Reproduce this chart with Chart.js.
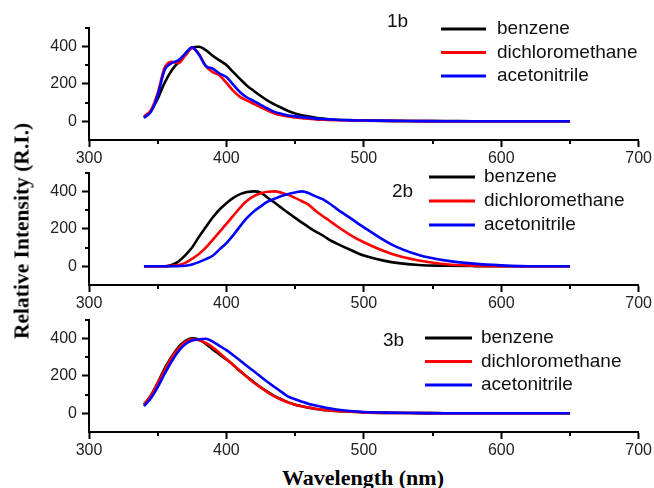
<!DOCTYPE html>
<html>
<head>
<meta charset="utf-8">
<script src="https://cdn.jsdelivr.net/npm/chart.js@4.4.1/dist/chart.umd.min.js"></script>
<style>
    body { margin: 0; background: #fff; }
    #wrap { position: relative; width: 654px; height: 488px; overflow: hidden; }
    .panel { position: absolute; left: 0; width: 654px; height: 157px; }
    #ytitle {
        position: absolute; left: 22px; top: 231px;
        transform: translate(-50%, -50%) rotate(-90deg);
        font: bold 21.5px "Liberation Serif", "Times New Roman", serif;
        white-space: nowrap; color: #000;
    }
    #xtitle {
        position: absolute; left: 363px; top: 478px;
        transform: translate(-50%, -50%);
        font: bold 22px "Liberation Serif", "Times New Roman", serif;
        white-space: nowrap; color: #000;
    }
</style>
</head>
<body>
<div id="wrap">
    <div class="panel" style="top:13px"><canvas id="c1"></canvas></div>
    <div class="panel" style="top:158px"><canvas id="c2"></canvas></div>
    <div class="panel" style="top:305px"><canvas id="c3"></canvas></div>
    <div id="ytitle">Relative Intensity (R.I.)</div>
    <div id="xtitle">Wavelength (nm)</div>
</div>
<script>
// wavelengths (nm) shared by every curve
const wavelengths = [340, 345, 350, 355, 360, 365, 370, 375, 380, 385, 390, 395, 400, 405, 410, 415, 420, 425, 430, 435, 440, 445, 450, 455, 460, 465, 470, 475, 480, 490, 500, 520, 540, 560, 580, 600, 625, 650];

const solvents = ['benzene', 'dichloromethane', 'acetonitrile'];

// 1b
const benzene1b = [19, 55, 120, 205, 270, 315, 360, 392, 398, 380, 350, 325, 300, 262, 225, 190, 162, 135, 110, 90, 72, 55, 42, 32, 25, 19, 14, 10, 8, 6, 4, 2, 1, 1, 0, 0, 0, 0];
const dcm1b = [27, 58, 150, 285, 318, 310, 350, 390, 360, 295, 262, 245, 205, 162, 130, 110, 93, 75, 57, 42, 32, 25, 21, 17, 14, 10, 8, 7, 6, 4, 3, 2, 1, 0, 0, 0, 0, 0];
const acn1b = [19, 50, 140, 272, 310, 325, 360, 395, 355, 295, 281, 255, 236, 195, 155, 127, 108, 88, 68, 50, 40, 31, 26, 22, 18, 14, 12, 10, 8, 5, 4, 2, 1, 0, 0, 0, 0, 0];

// 2b
const benzene2b = [0, 0, 0, 0, 7, 25, 58, 100, 157, 209, 260, 303, 337, 365, 385, 396, 400, 393, 366, 340, 312, 285, 258, 233, 208, 185, 165, 141, 122, 88, 57, 22, 7, 3, 1, 0, 0, 0];
const dcm2b = [0, 0, 0, 0, 2, 6, 18, 40, 65, 99, 141, 184, 226, 270, 313, 350, 374, 390, 398, 400, 393, 381, 365, 347, 328, 295, 268, 243, 216, 168, 128, 67, 31, 11, 3, 0, 0, 0];
const acn2b = [0, 0, 0, 0, 0, 1, 3, 10, 22, 38, 56, 90, 124, 166, 214, 258, 293, 320, 345, 360, 375, 386, 394, 400, 390, 373, 358, 335, 308, 258, 208, 117, 60, 30, 14, 5, 0, 0];

// 3b
const benzene3b = [46, 95, 163, 238, 300, 352, 385, 400, 393, 370, 341, 314, 287, 258, 224, 195, 166, 139, 114, 92, 75, 58, 46, 37, 29, 23, 18, 15, 12, 8, 5, 2, 1, 0, 0, 0, 0, 0];
const dcm3b = [48, 92, 160, 230, 295, 345, 380, 395, 390, 375, 352, 322, 290, 258, 226, 194, 163, 137, 112, 90, 72, 57, 46, 37, 30, 24, 19, 15, 12, 8, 5, 2, 1, 0, 0, 0, 0, 0];
const acn3b = [38, 80, 140, 210, 275, 330, 368, 388, 395, 398, 382, 360, 337, 310, 282, 252, 224, 195, 167, 140, 114, 89, 75, 62, 50, 41, 33, 26, 20, 12, 7, 3, 1, 0, 0, 0, 0, 0];

const xMajor = [300, 400, 500, 600, 700];
const xMinor = [350, 450, 550, 650];
const yMajor = [0, 200, 400];
const yMinor = [100, 300, 500];

const colors = ['#000000', '#ff0000', '#0000ff'];

// small minor ticks + inset legend with panel name
const decorations = {
    id: 'decorations',
    afterDraw(chart, args, opts) {
        const ctx = chart.ctx;
        const xs = chart.scales.x, ys = chart.scales.y;
        ctx.save();
        ctx.strokeStyle = '#000';
        ctx.lineWidth = 2;
        ctx.beginPath();
        xMinor.forEach(v => {
            const px = Math.round(xs.getPixelForValue(v));
            ctx.moveTo(px, ys.bottom);
            ctx.lineTo(px, ys.bottom + 4);
        });
        yMinor.forEach(v => {
            const py = Math.round(ys.getPixelForValue(v));
            ctx.moveTo(xs.left, py);
            ctx.lineTo(xs.left - 4, py);
        });
        ctx.stroke();

        ctx.font = '19px "Liberation Sans", Arial, sans-serif';
        ctx.textBaseline = 'middle';
        ctx.fillStyle = '#111';
        ctx.fillText(opts.name, opts.nameX, opts.nameY);
        chart.data.datasets.forEach((ds, i) => {
            const y = opts.rowY + i * opts.rowGap;
            ctx.strokeStyle = ds.borderColor;
            ctx.lineWidth = 3;
            ctx.beginPath();
            ctx.moveTo(opts.lineX1, y);
            ctx.lineTo(opts.lineX2, y);
            ctx.stroke();
            ctx.fillStyle = '#111';
            ctx.fillText(ds.label, opts.textX, y);
        });
        ctx.restore();
    }
};

function makePanel(id, series, legend) {
    return new Chart(document.getElementById(id), {
        type: 'line',
        data: {
            datasets: series.map((vals, i) => ({
                label: solvents[i],
                data: wavelengths.map((w, j) => ({ x: w, y: vals[j] })),
                borderColor: colors[i],
                borderWidth: 2.6,
                pointRadius: 0,
                cubicInterpolationMode: 'monotone',
                fill: false,
                order: 2 - i
            }))
        },
        options: {
            responsive: true,
            maintainAspectRatio: false,
            animation: false,
            layout: { padding: { top: 10, left: 0, right: 13, bottom: 0 } },
            plugins: {
                legend: { display: false },
                tooltip: { enabled: false },
                decorations: legend
            },
            scales: {
                x: {
                    type: 'linear',
                    min: 300,
                    max: 700,
                    afterBuildTicks: s => { s.ticks = xMajor.map(v => ({ value: v })); },
                    afterFit: s => { s.height = 30; },
                    border: { display: true, color: '#000', width: 2 },
                    grid: { drawOnChartArea: false, tickLength: 7, tickColor: '#000', tickWidth: 2 },
                    ticks: {
                        color: '#222',
                        padding: 2,
                        maxRotation: 0,
                        font: { family: '"Liberation Sans", Arial, sans-serif', size: 16 }
                    }
                },
                y: {
                    min: -100,
                    max: 500,
                    afterBuildTicks: s => { s.ticks = yMajor.map(v => ({ value: v })); },
                    afterFit: s => { s.width = 89; },
                    border: { display: true, color: '#000', width: 2 },
                    grid: { drawOnChartArea: false, tickLength: 7, tickColor: '#000', tickWidth: 2 },
                    ticks: {
                        color: '#222',
                        padding: 5,
                        font: { family: '"Liberation Sans", Arial, sans-serif', size: 16 }
                    }
                }
            }
        },
        plugins: [decorations]
    });
}

makePanel('c1', [benzene1b, dcm1b, acn1b],
    { name: '1b', nameX: 387, nameY: 9, lineX1: 441, lineX2: 486, textX: 497, rowY: 16, rowGap: 23.5 });
makePanel('c2', [benzene2b, dcm2b, acn2b],
    { name: '2b', nameX: 392, nameY: 34, lineX1: 429, lineX2: 475, textX: 484, rowY: 19, rowGap: 24 });
makePanel('c3', [benzene3b, dcm3b, acn3b],
    { name: '3b', nameX: 383, nameY: 36, lineX1: 425, lineX2: 472, textX: 481, rowY: 33, rowGap: 23.5 });
</script>
</body>
</html>
